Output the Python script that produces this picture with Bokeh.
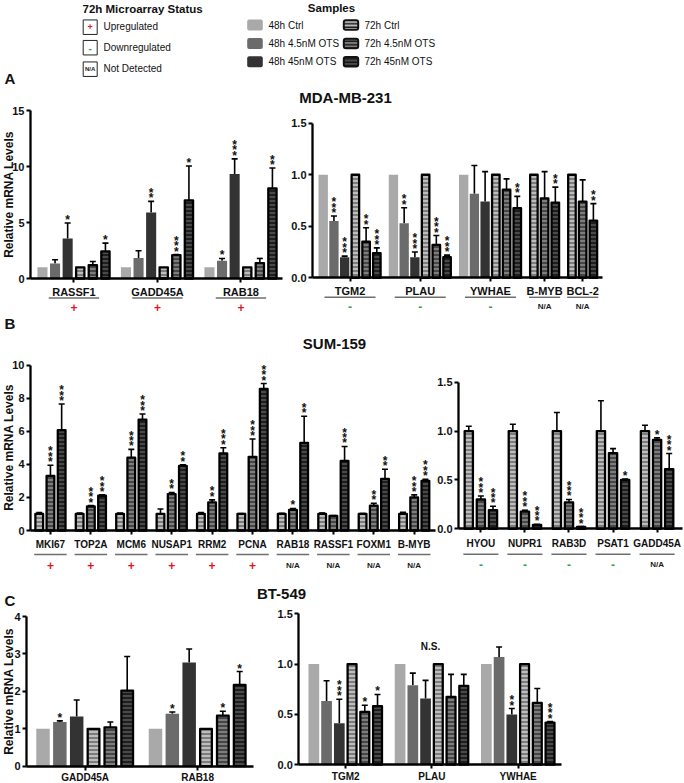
import math
from bokeh.plotting import figure
from bokeh.models import (ColumnDataSource, FixedTicker, PrintfTickFormatter, CustomJSTickFormatter,
                          LinearAxis, Range1d, Label, Whisker, TeeHead)
from bokeh.layouts import column, row
from bokeh.embed import file_html
from bokeh.resources import INLINE
from bokeh.core.properties import value

FONT = "Liberation Sans"
S = 1.0  # the page template has no body margin, so the figure can use its full size

# ---------------------------------------------------------------- data
samples = ["48h Ctrl", "48h 4.5nM OTS", "48h 45nM OTS", "72h Ctrl", "72h 4.5nM OTS", "72h 45nM OTS"]
sample_fill = ["#a9a9a9", "#6b6b6b", "#333333", "#bdbdbd", "#7d7d7d", "#4a4a4a"]
sample_hatch = [None, None, None, "#6a6a6a", "#383838", "#121212"]
status_labels = ["Upregulated", "Downregulated", "Not Detected"]
status_marks = ["+", "-", "N/A"]

# A: MDA-MB-231 (left)
genes_a_left = ["RASSF1", "GADD45A", "RAB18"]
status_a_left = ["+", "+", "+"]
mean_a_left = [[1.0, 1.34, 3.58, 1.0, 1.20, 2.42],
               [1.0, 1.82, 5.90, 1.0, 2.09, 6.98],
               [1.0, 1.58, 9.33, 1.0, 1.38, 8.04]]
err_a_left = [[0, 0.33, 1.37, 0, 0.32, 0.74],
              [0, 0.66, 0.99, 0, 0.05, 3.07],
              [0, 0.21, 1.35, 0, 0.41, 1.82]]
star_a_left = [["", "", "*", "", "", "*"],
               ["", "", "**", "", "***", "*"],
               ["", "*", "***", "", "", "**"]]

# A: MDA-MB-231 (right)
genes_a_right = ["TGM2", "PLAU", "YWHAE", "B-MYB", "BCL-2"]
status_a_right = ["-", "-", "-", "N/A", "N/A"]
mean_a_right = [[1.0, 0.55, 0.20, 1.0, 0.35, 0.24],
                [1.0, 0.53, 0.20, 1.0, 0.32, 0.20],
                [1.0, 0.815, 0.74, 1.0, 0.855, 0.675],
                [None, None, None, 1.0, 0.77, 0.73],
                [None, None, None, 1.0, 0.74, 0.555]]
err_a_right = [[0, 0.05, 0.01, 0, 0.135, 0.05],
               [0, 0.15, 0.05, 0, 0.09, 0.02],
               [0, 0.275, 0.29, 0, 0.105, 0.115],
               [None, None, None, 0, 0.26, 0.15],
               [None, None, None, 0, 0.21, 0.165]]
star_a_right = [["", "***", "***", "", "**", "***"],
                ["", "**", "***", "", "***", "***"],
                ["", "", "", "", "", "**"],
                [None, None, None, "", "", "**"],
                [None, None, None, "", "", "**"]]

# B: SUM-159 (left) - 72h samples only
genes_b_left = ["MKI67", "TOP2A", "MCM6", "NUSAP1", "RRM2", "PCNA", "RAB18", "RASSF1", "FOXM1", "B-MYB"]
status_b_left = ["+", "+", "+", "+", "+", "+", "N/A", "N/A", "N/A", "N/A"]
mean_b_left = [[None, None, None, 1.0, 3.30, 6.06],
               [None, None, None, 1.0, 1.45, 2.10],
               [None, None, None, 1.0, 4.40, 6.70],
               [None, None, None, 1.0, 2.20, 3.90],
               [None, None, None, 1.0, 1.70, 4.66],
               [None, None, None, 1.0, 4.45, 8.56],
               [None, None, None, 1.0, 1.25, 5.30],
               [None, None, None, 1.0, 0.88, 4.20],
               [None, None, None, 1.0, 1.50, 3.12],
               [None, None, None, 1.0, 2.00, 3.00]]
err_b_left = [[None, None, None, 0.08, 0.64, 1.58],
              [None, None, None, 0.05, 0.06, 0.05],
              [None, None, None, 0.05, 0.50, 0.34],
              [None, None, None, 0.30, 0.10, 0.07],
              [None, None, None, 0.08, 0.15, 0.34],
              [None, None, None, 0.03, 1.08, 0.32],
              [None, None, None, 0.04, 0.08, 1.60],
              [None, None, None, 0.06, 0.02, 0.88],
              [None, None, None, 0.03, 0.15, 0.58],
              [None, None, None, 0.10, 0.15, 0.10]]
star_b_left = [[None, None, None, "", "***", "***"],
               [None, None, None, "", "***", "***"],
               [None, None, None, "", "***", "***"],
               [None, None, None, "", "**", "**"],
               [None, None, None, "", "**", "***"],
               [None, None, None, "", "***", "***"],
               [None, None, None, "", "*", "**"],
               [None, None, None, "", "", "***"],
               [None, None, None, "", "**", "**"],
               [None, None, None, "", "***", "***"]]

# B: SUM-159 (right)
genes_b_right = ["HYOU", "NUPR1", "RAB3D", "PSAT1", "GADD45A"]
status_b_right = ["-", "-", "-", "-", "N/A"]
mean_b_right = [[None, None, None, 1.0, 0.30, 0.19],
                [None, None, None, 1.0, 0.175, 0.04],
                [None, None, None, 1.0, 0.27, 0.02],
                [None, None, None, 1.0, 0.775, 0.50],
                [None, None, None, 1.0, 0.91, 0.61]]
err_b_right = [[None, None, None, 0.05, 0.035, 0.04],
               [None, None, None, 0.07, 0.015, 0.005],
               [None, None, None, 0.19, 0.03, 0.003],
               [None, None, None, 0.31, 0.045, 0.01],
               [None, None, None, 0.06, 0.02, 0.16]]
star_b_right = [[None, None, None, "", "***", "***"],
                [None, None, None, "", "***", "***"],
                [None, None, None, "", "***", "***"],
                [None, None, None, "", "", "*"],
                [None, None, None, "", "*", "***"]]

# C: BT-549 (left)
genes_c_left = ["GADD45A", "RAB18"]
mean_c_left = [[1.0, 1.18, 1.33, 1.0, 1.04, 2.02],
               [1.0, 1.40, 2.77, 1.0, 1.35, 2.17]]
err_c_left = [[0, 0.03, 0.44, 0, 0.14, 0.91],
              [0, 0.05, 0.36, 0, 0.12, 0.36]]
star_c_left = [["", "*", "", "", "", ""],
               ["", "*", "", "", "*", "*"]]

# C: BT-549 (right)
genes_c_right = ["TGM2", "PLAU", "YWHAE"]
mean_c_right = [[1.0, 0.633, 0.41, 1.0, 0.523, 0.58],
                [1.0, 0.79, 0.657, 1.0, 0.673, 0.783],
                [1.0, 1.07, 0.497, 1.0, 0.613, 0.417]]
err_c_right = [[0, 0.20, 0.24, 0, 0.067, 0.117],
               [0, 0.12, 0.18, 0, 0.224, 0.114],
               [0, 0.10, 0.06, 0, 0.144, 0.01]]
star_c_right = [["", "", "***", "", "*", "*"],
                ["", "", "", "", "", ""],
                ["", "", "**", "", "", "***"]]

STATUS_COLOR = {"+": "#e3141c", "-": "#35a548", "N/A": "#1a1a1a"}
STATUS_SIZE = {"+": "12px", "-": "12px", "N/A": "8px"}


def px(v):
    return int(round(v * S))


def make_panel(genes, means, errs, stars, status, *, width, height, fl, fr, ft, zero, top_val,
               ticks, fmt, first_pad, gap, last_pad, bar_w, lab_size="11px", lab_standoff=3,
               ul_half=None, ul_off=None, mk_off=None, y_title=None, labels=()):
    # bar positions along a numeric axis (one unit per bar, gap between genes)
    entries = []
    centers = []
    cursor = 0.0
    for g, gene in enumerate(genes):
        present = [j for j, m in enumerate(means[g]) if m is not None]
        xs = [cursor + k for k in range(len(present))]
        centers.append((xs[0] + xs[-1]) / 2.0)
        for k, j in enumerate(present):
            entries.append((xs[k], means[g][j], errs[g][j], stars[g][j], j))
        cursor = xs[-1] + 1 + gap
    x0 = -first_pad
    x1 = entries[-1][0] + last_pad
    ppu_x = (fr - fl) / (x1 - x0)
    ppu_y = (zero - ft) / top_val
    X0 = x0 - fl / ppu_x
    X1 = x1 + (width - fr) / ppu_x
    Y0 = -(height - zero) / ppu_y
    Y1 = top_val + ft / ppu_y

    p = figure(width=px(width), height=px(height), x_range=Range1d(X0, X1), y_range=Range1d(Y0, Y1),
               min_border=0, toolbar_location=None, output_backend="svg",
               x_axis_type=None, y_axis_type=None, title=None)
    p.outline_line_color = None
    p.background_fill_color = "white"
    p.border_fill_color = "white"

    yax = LinearAxis(ticker=FixedTicker(ticks=ticks), bounds=(0, top_val), fixed_location=x0,
                     formatter=PrintfTickFormatter(format=fmt))
    yax.axis_line_width = 2.3
    yax.major_tick_line_width = 2
    yax.major_tick_out = 4
    yax.major_tick_in = 0
    yax.minor_tick_out = 0
    yax.minor_tick_in = 0
    yax.major_label_standoff = 2
    yax.major_label_text_font = FONT
    yax.major_label_text_font_style = "bold"
    yax.major_label_text_font_size = "11px"
    yax.major_label_text_color = "#111111"
    p.add_layout(yax, "left")

    xax = LinearAxis(ticker=FixedTicker(ticks=centers), fixed_location=0, bounds=(x0, x1),
                     formatter=CustomJSTickFormatter(args=dict(c=centers, n=genes), code="""
        let best = 0, bd = 1e9;
        for (let i = 0; i < c.length; i++) { const d = Math.abs(c[i] - tick); if (d < bd) { bd = d; best = i; } }
        return n[best];"""))
    xax.axis_line_width = 2.3
    xax.major_tick_line_width = 2
    xax.major_tick_out = 4
    xax.major_tick_in = 0
    xax.minor_tick_out = 0
    xax.minor_tick_in = 0
    xax.major_label_standoff = lab_standoff
    xax.major_label_text_font = FONT
    xax.major_label_text_font_style = "bold"
    xax.major_label_text_font_size = lab_size
    xax.major_label_text_color = "#111111"
    p.add_layout(xax, "below")

    sx = ppu_x * S  # screen px per unit
    for j in range(6):
        sel = [e for e in entries if e[4] == j]
        if not sel:
            continue
        src = ColumnDataSource(dict(x=[e[0] for e in sel], top=[e[1] for e in sel]))
        if sample_hatch[j] is None:
            p.vbar(x="x", top="top", bottom=0, width=bar_w, source=src,
                   fill_color=sample_fill[j], line_color=None)
        else:
            p.vbar(x="x", top="top", bottom=0, width=bar_w - 1.8 / sx, source=src,
                   fill_color=sample_fill[j], hatch_pattern="horizontal_line", hatch_color=sample_hatch[j],
                   hatch_scale=4, hatch_weight=1.6, line_color="black", line_width=2.3, line_join="round")

    we = [e for e in entries if e[2]]
    if we:
        wsrc = ColumnDataSource(dict(base=[e[0] for e in we], lower=[e[1] for e in we],
                                     upper=[e[1] + e[2] for e in we]))
        p.add_layout(Whisker(source=wsrc, base="base", lower="lower", upper="upper", line_color="black",
                             line_width=1.6, lower_head=None,
                             upper_head=TeeHead(size=6, line_color="black", line_width=1.6)))

    # significance stars: stacked upright asterisks above each error bar
    st_x, st_y, st_off = [], [], []
    for e in entries:
        if not e[3]:
            continue
        for k in range(len(e[3])):
            st_x.append(e[0])
            st_y.append(e[1] + (e[2] or 0))
            st_off.append(-3.0 - 5.4 * k)
    if st_x:
        ssrc = ColumnDataSource(dict(x=st_x, y=st_y, o=st_off, t=["*"] * len(st_x)))
        p.text(x="x", y="y", text="t", source=ssrc, y_offset="o", text_align="center",
               text_baseline="alphabetic", text_font=value(FONT), text_font_style="bold",
               text_font_size="12px", text_color="#111111")

    if status is not None:
        half = []
        for g in range(len(genes)):
            n = sum(1 for m in means[g] if m is not None)
            half.append(ul_half[n])
        usrc = ColumnDataSource(dict(a=[c - h for c, h in zip(centers, half)], b=[c + h for c, h in zip(centers, half)],
                                     y=[-ul_off / ppu_y] * len(centers)))
        p.segment(x0="a", x1="b", y0="y", y1="y", source=usrc, line_color="#6e6e6e", line_width=1.4)
        msrc = ColumnDataSource(dict(x=centers, y=[-mk_off / ppu_y] * len(centers), t=status,
                                     c=[STATUS_COLOR[s] for s in status], fs=[STATUS_SIZE[s] for s in status]))
        p.text(x="x", y="y", text="t", source=msrc, text_align="center", text_baseline="middle",
               text_color="c", text_font=value(FONT), text_font_style="bold", text_font_size="fs")

    def to_data(lx, ly):
        return x0 + (lx - fl) / ppu_x, top_val - (ly - ft) / ppu_y

    if y_title is not None:
        X, Y = to_data(*y_title)
        p.add_layout(Label(x=X, y=Y, text="Relative mRNA Levels", angle=math.pi / 2, text_align="center",
                           text_baseline="middle", text_font=FONT, text_font_style="bold",
                           text_font_size="12px", text_color="#111111"))
    for (txt, lx, ly, size, align) in labels:
        X, Y = to_data(lx, ly)
        p.add_layout(Label(x=X, y=Y, text=txt, text_align=align, text_baseline="middle", text_font=FONT,
                           text_font_style="bold", text_font_size=size, text_color="#111111"))
    return p


# ---------------------------------------------------------------- header / legends
HDR_H = 88
hdr = figure(width=px(684), height=px(HDR_H), x_range=Range1d(0, 684), y_range=Range1d(HDR_H, 0),
             min_border=0, toolbar_location=None, output_backend="svg", x_axis_type=None,
             y_axis_type=None, title=None)
hdr.outline_line_color = None
txt_kw = dict(text_font=value(FONT), text_baseline="middle", text_color="#111111")
hdr.text(x=[82], y=[8], text=["72h Microarray Status"], text_align="left", text_font_style="bold",
         text_font_size="11.5px", **txt_kw)
box_y = [26.7, 47.2, 68.7]
hdr.rect(x=[89.7] * 3, y=box_y, width=14, height=14.5, fill_color=None, line_color="#222222", line_width=1)
hdr.text(x=[89.7] * 3, y=box_y, text=status_marks, text_align="center", text_font_style="bold",
         text_font_size=["9px", "10px", "6px"], text_font=value(FONT), text_baseline="middle",
         text_color=[STATUS_COLOR[s] for s in status_marks])
hdr.text(x=[103] * 3, y=[25.5, 46.5, 68.2], text=status_labels, text_align="left", text_font_size="10px", **txt_kw)
hdr.text(x=[331], y=[7.5], text=["Samples"], text_align="center", text_font_style="bold",
         text_font_size="11.5px", **txt_kw)
sw_y = [24.5, 43.0, 61.3]
for j in range(6):
    col_x = 254.5 if j < 3 else 350.5
    yy = sw_y[j % 3]
    if sample_hatch[j] is None:
        hdr.quad(left=col_x - 7.8, right=col_x + 7.8, top=yy - 5.5, bottom=yy + 5.5, fill_color=sample_fill[j],
                 line_color=None, border_radius=2)
    else:
        hdr.quad(left=col_x - 7.2, right=col_x + 7.2, top=yy - 4.8, bottom=yy + 4.8, fill_color=sample_fill[j],
                 hatch_pattern="horizontal_line", hatch_color="#111111", hatch_scale=3.5, hatch_weight=1.4,
                 line_color="#111111", line_width=2, border_radius=2)
    hdr.text(x=[col_x + 13.5], y=[yy], text=[samples[j]], text_align="left", text_font_size="10px", **txt_kw)
hdr.text(x=[4], y=[77.5], text=["A"], text_align="left", text_font_style="bold", text_font_size="15px", **txt_kw)

# ---------------------------------------------------------------- panels (row A starts at ref y=88)
a_left = make_panel(genes_a_left, mean_a_left, err_a_left, star_a_left, status_a_left,
                    width=284, height=227, fl=30, fr=282, ft=22, zero=190, top_val=15, ticks=[0, 5, 10, 15],
                    fmt="%d", first_pad=0.95, gap=0.63, last_pad=0.8, bar_w=0.8, lab_size="11px",
                    ul_half={6: 2.0, 3: 1.45}, ul_off=19.5, mk_off=28.5, y_title=(8, 106))
a_right = make_panel(genes_a_right, mean_a_right, err_a_right, star_a_right, status_a_right,
                     width=400, height=227, fl=28, fr=318, ft=34.7, zero=189.3, top_val=1.5,
                     ticks=[0, 0.5, 1.0, 1.5], fmt="%.1f", first_pad=1.0, gap=0.55, last_pad=0.85, bar_w=0.87,
                     lab_size="11px", ul_half={6: 2.38, 3: 1.45}, ul_off=19.5, mk_off=28.5,
                     labels=[("MDA-MB-231", 61, 9, "15px", "center")])
b_left = make_panel(genes_b_left, mean_b_left, err_b_left, star_b_left, status_b_left,
                    width=436, height=260, fl=30, fr=435, ft=49.5, zero=215, top_val=10,
                    ticks=[0, 2, 4, 6, 8, 10], fmt="%d", first_pad=0.78, gap=0.607, last_pad=0.9, bar_w=0.85,
                    lab_size="10px", lab_standoff=4, ul_half={3: 1.45}, ul_off=24, mk_off=34.5,
                    y_title=(8, 132),
                    labels=[("B", 4, 8, "15px", "left"), ("SUM-159", 334, 28, "15px", "center")])
b_right = make_panel(genes_b_right, mean_b_right, err_b_right, star_b_right, status_b_right,
                     width=248, height=260, fl=22, fr=246, ft=66.7, zero=213.3, top_val=1.5,
                     ticks=[0, 0.5, 1.0, 1.5], fmt="%.1f", first_pad=0.85, gap=0.64, last_pad=1.1, bar_w=0.83,
                     lab_size="10px", lab_standoff=5, ul_half={3: 1.45}, ul_off=25.5, mk_off=35.5)
c_left = make_panel(genes_c_left, mean_c_left, err_c_left, star_c_left, None,
                    width=254, height=208, fl=26, fr=253, ft=41, zero=190.7, top_val=4,
                    ticks=[0, 1, 2, 3, 4], fmt="%d", first_pad=0.98, gap=0.68, last_pad=0.82, bar_w=0.8,
                    lab_size="10px", lab_standoff=2, y_title=(8, 116),
                    labels=[("C", 4, 25, "15px", "left")])
c_right = make_panel(genes_c_right, mean_c_right, err_c_right, star_c_right, None,
                     width=430, height=208, fl=44.3, fr=307, ft=38.3, zero=189, top_val=1.5,
                     ticks=[0, 0.5, 1.0, 1.5], fmt="%.1f", first_pad=1.18, gap=0.77, last_pad=0.9, bar_w=0.84,
                     lab_size="10px", lab_standoff=2,
                     labels=[("BT-549", 27, 18, "15px", "center"), ("N.S.", 176, 71, "10px", "center")])

layout = column(hdr, row(a_left, a_right), row(b_left, b_right), row(c_left, c_right))
open("out.html", "w").write(file_html(layout, INLINE))
